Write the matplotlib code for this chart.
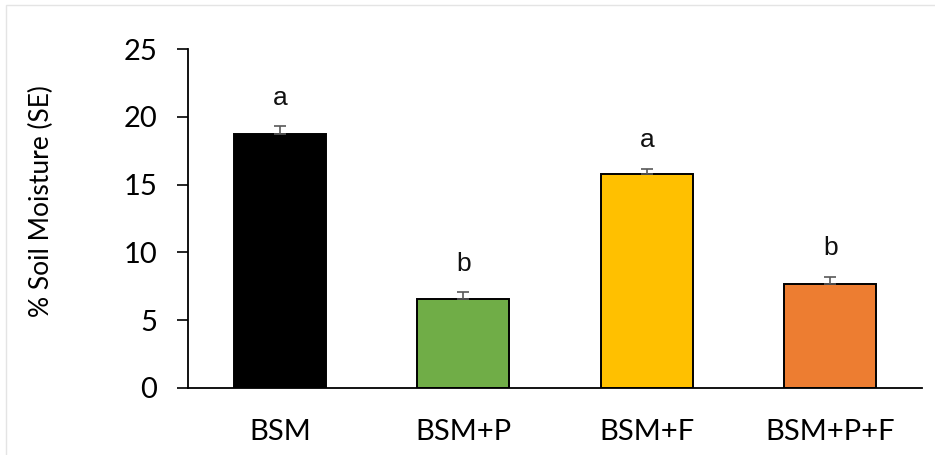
import matplotlib
matplotlib.use("Agg")
import matplotlib.pyplot as plt
from matplotlib.patches import Rectangle

# Soil moisture by treatment, mean with standard error
treatments = ["BSM", "BSM+P", "BSM+F", "BSM+P+F"]
moisture = [18.7, 6.55, 15.75, 7.7]
std_err = [0.6, 0.5, 0.4, 0.5]
letters = ["a", "b", "a", "b"]
bar_colors = ["#000000", "#70AD47", "#FFC000", "#ED7D31"]
y_ticks = [0, 5, 10, 15, 20, 25]

fig = plt.figure(figsize=(9.35, 4.55), dpi=100)
ax = fig.add_axes([0.2011, 0.1473, 0.7850, 0.7450])

x = list(range(len(treatments)))
ax.bar(x, moisture, width=0.5, color=bar_colors, edgecolor="black",
       linewidth=1.4, zorder=2)
ax.errorbar(x, moisture, yerr=[[0] * len(std_err), std_err], fmt="none",
            ecolor="#595959", elinewidth=1.2, capsize=4, capthick=1.2,
            zorder=3)

for xi, m, e, lab in zip(x, moisture, std_err, letters):
    ax.annotate(lab, (xi, m + e), xytext=(0, 12), textcoords="offset points",
                ha="center", va="bottom", fontsize=19,
                family="Liberation Sans", color="#111111")

ax.set_xlim(-0.5, 3.5)
ax.set_ylim(0, 25)
ax.set_yticks(y_ticks)
ax.set_xticks(x)
ax.set_xticklabels(treatments, family="Lato", fontsize=21)
ax.set_yticklabels([str(t) for t in y_ticks], family="Lato", fontsize=21)
ax.tick_params(axis="y", direction="out", length=8, width=1.2, pad=14)
ax.tick_params(axis="x", length=0, pad=22)

for side in ("top", "right"):
    ax.spines[side].set_visible(False)
ax.spines["left"].set_linewidth(1.3)
ax.spines["bottom"].set_linewidth(1.3)

ax.set_ylabel("% Soil Moisture (SE)", family="Lato", fontsize=19)
ax.yaxis.set_label_coords(-0.183, 0.55)

# faint chart-area frame
fig.patches.append(Rectangle((0.006, -0.05), 1.2, 1.04, transform=fig.transFigure,
                             fill=False, edgecolor="#e4e4e4", linewidth=1.0))

fig.savefig("out.png", dpi=100)
